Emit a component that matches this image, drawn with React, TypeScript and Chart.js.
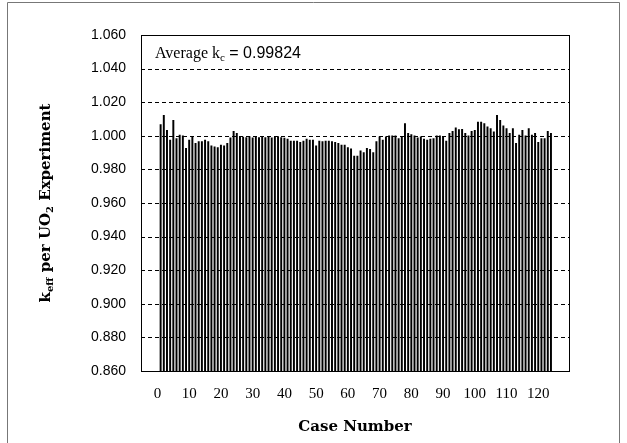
import React, { useEffect, useRef } from "react";
import { Chart, registerables } from "chart.js";

Chart.register(...registerables);

// keff per experiment, case 1..124
const keffValues: number[] = [
  1.0067, 1.0122, 1.0033, 0.9975, 1.0092, 0.9984, 1.0004, 1.0, 0.9925, 0.9975,
  0.9994, 0.9955, 0.9965, 0.9965, 0.9975, 0.9965, 0.9941, 0.9935, 0.993, 0.9945,
  0.994, 0.9955, 0.9988, 1.0027, 1.0014, 0.9994, 0.9992, 0.999, 0.9996, 0.9988,
  0.9992, 0.999, 0.9994, 0.999, 0.9996, 0.9988, 0.9992, 0.9996, 0.999, 0.9986,
  0.998, 0.9969, 0.9969, 0.9969, 0.9961, 0.9969, 0.998, 0.9975, 0.9975, 0.9941,
  0.9969, 0.9965, 0.9969, 0.9969, 0.9965, 0.9961, 0.9955, 0.9945, 0.9945, 0.993,
  0.9922, 0.988, 0.988, 0.991, 0.99, 0.9925, 0.992, 0.99, 0.9965, 0.9994,
  0.9975, 0.9994, 1.0, 1.0, 1.0, 0.9984, 0.9994, 1.0073, 1.0014, 1.0008,
  1.0, 0.9988, 0.9994, 0.998, 0.9975, 0.998, 0.9984, 1.0, 1.0, 0.9994,
  0.9969, 1.0014, 1.0027, 1.0047, 1.0037, 1.0039, 1.0014, 1.0, 1.0027, 1.0033,
  1.0082, 1.0082, 1.0073, 1.0053, 1.0043, 1.0024, 1.0122, 1.0092, 1.0059, 1.0043,
  1.0014, 1.0043, 0.9955, 1.0004, 1.0033, 1.0, 1.0043, 1.0004, 1.0014, 0.9961,
  0.9984, 0.9984, 1.0027, 1.0014,
];

const yTickValues: number[] = [0.86, 0.88, 0.9, 0.92, 0.94, 0.96, 0.98, 1.0, 1.02, 1.04, 1.06];
const xTickValues: number[] = [0, 10, 20, 30, 40, 50, 60, 70, 80, 90, 100, 110, 120];
const averageLabel = { pre: "Average k", sub: "c", post: " = 0.99824" };
const xTitle = "Case Number";
const yTitleParts: { t: string; sub: boolean }[] = [
  { t: "k", sub: false },
  { t: "eff", sub: true },
  { t: " per UO", sub: false },
  { t: "2", sub: true },
  { t: " Experiment", sub: false },
];

const decorPlugin = {
  id: "decor",
  beforeDatasetsDraw(chart: any) {
    const { ctx, chartArea } = chart;
    const y = chart.scales.y;
    ctx.save();
    ctx.strokeStyle = "#000";
    ctx.lineWidth = 1;
    ctx.setLineDash([4, 3]);
    for (const v of yTickValues) {
      if (v <= 0.861 || v >= 1.059) continue;
      const py = Math.round(y.getPixelForValue(v)) + 0.5;
      ctx.beginPath();
      ctx.moveTo(chartArea.left, py);
      ctx.lineTo(chartArea.right, py);
      ctx.stroke();
    }
    ctx.restore();
  },
  afterDatasetsDraw(chart: any) {
    const { ctx, chartArea, height } = chart;
    ctx.save();
    ctx.strokeStyle = "#000";
    ctx.lineWidth = 1;
    ctx.setLineDash([]);
    ctx.strokeRect(
      Math.round(chartArea.left) + 0.5,
      Math.round(chartArea.top) + 0.5,
      Math.round(chartArea.right - chartArea.left),
      Math.round(chartArea.bottom - chartArea.top)
    );
    ctx.strokeStyle = "#777";
    ctx.beginPath();
    ctx.moveTo(7.5, height);
    ctx.lineTo(7.5, 2.5);
    ctx.lineTo(619.5, 2.5);
    ctx.lineTo(619.5, height);
    ctx.stroke();

    ctx.fillStyle = "#000";
    ctx.textBaseline = "alphabetic";
    ctx.textAlign = "left";
    let x = 155;
    const base = 58;
    ctx.font = "16px 'Liberation Serif', serif";
    ctx.fillText(averageLabel.pre, x, base);
    x += ctx.measureText(averageLabel.pre).width;
    ctx.font = "11px 'Liberation Serif', serif";
    ctx.fillText(averageLabel.sub, x, base + 3);
    x += ctx.measureText(averageLabel.sub).width;
    ctx.font = "16px 'Liberation Sans', sans-serif";
    ctx.fillText(averageLabel.post, x, base);

    ctx.font = "bold 15px 'DejaVu Serif', serif";
    ctx.textAlign = "center";
    ctx.fillText(xTitle, (chartArea.left + chartArea.right) / 2, 431);

    ctx.translate(45, (chartArea.top + chartArea.bottom) / 2);
    ctx.rotate(-Math.PI / 2);
    const mainFont = "bold 15px 'DejaVu Serif', serif";
    const subFont = "bold 10px 'DejaVu Serif', serif";
    let total = 0;
    for (const p of yTitleParts) {
      ctx.font = p.sub ? subFont : mainFont;
      total += ctx.measureText(p.t).width;
    }
    ctx.textAlign = "left";
    let tx = -total / 2;
    for (const p of yTitleParts) {
      ctx.font = p.sub ? subFont : mainFont;
      ctx.fillText(p.t, tx, p.sub ? 8 : 5);
      tx += ctx.measureText(p.t).width;
    }
    ctx.restore();
  },
};

export default function App() {
  const ref = useRef<HTMLCanvasElement | null>(null);
  useEffect(() => {
    if (!ref.current) return;
    const chart = new Chart(ref.current, {
      type: "bar",
      data: {
        datasets: [
          {
            data: keffValues.map((v, i) => ({ x: i + 1, y: v })),
            backgroundColor: "#000",
            borderWidth: 0,
            barThickness: 1.3,
          },
        ],
      },
      options: {
        responsive: false,
        animation: false,
        events: [],
        layout: { padding: { left: 0, right: 58, top: 35, bottom: 0 } },
        plugins: { legend: { display: false }, tooltip: { enabled: false } },
        scales: {
          x: {
            type: "linear",
            min: 0,
            max: 124.5,
            grid: { display: false, drawTicks: false },
            border: { display: false },
            afterBuildTicks: (s: any) => {
              s.ticks = xTickValues.map((v) => ({ value: v }));
            },
            afterFit: (s: any) => {
              s.height = 72;
            },
            ticks: {
              autoSkip: false,
              maxRotation: 0,
              padding: 14,
              color: "#000",
              font: { family: "'Liberation Serif', serif", size: 15 },
              callback: (v: any) => String(v),
            },
          },
          y: {
            type: "linear",
            min: 0.86,
            max: 1.06,
            grid: { display: false, drawTicks: false },
            border: { display: false },
            afterBuildTicks: (s: any) => {
              s.ticks = yTickValues.map((v) => ({ value: v }));
            },
            afterFit: (s: any) => {
              s.width = 141;
            },
            ticks: {
              padding: 15,
              color: "#000",
              font: { family: "'Liberation Sans', sans-serif", size: 14 },
              callback: (v: any) => Number(v).toFixed(3),
            },
          },
        },
      },
      plugins: [decorPlugin],
    } as any);
    return () => chart.destroy();
  }, []);
  return (
    <div style={{ position: "absolute", left: 0, top: 0, width: 627, height: 443, background: "#fff" }}>
      <canvas ref={ref} width={627} height={443} style={{ display: "block" }} />
    </div>
  );
}
